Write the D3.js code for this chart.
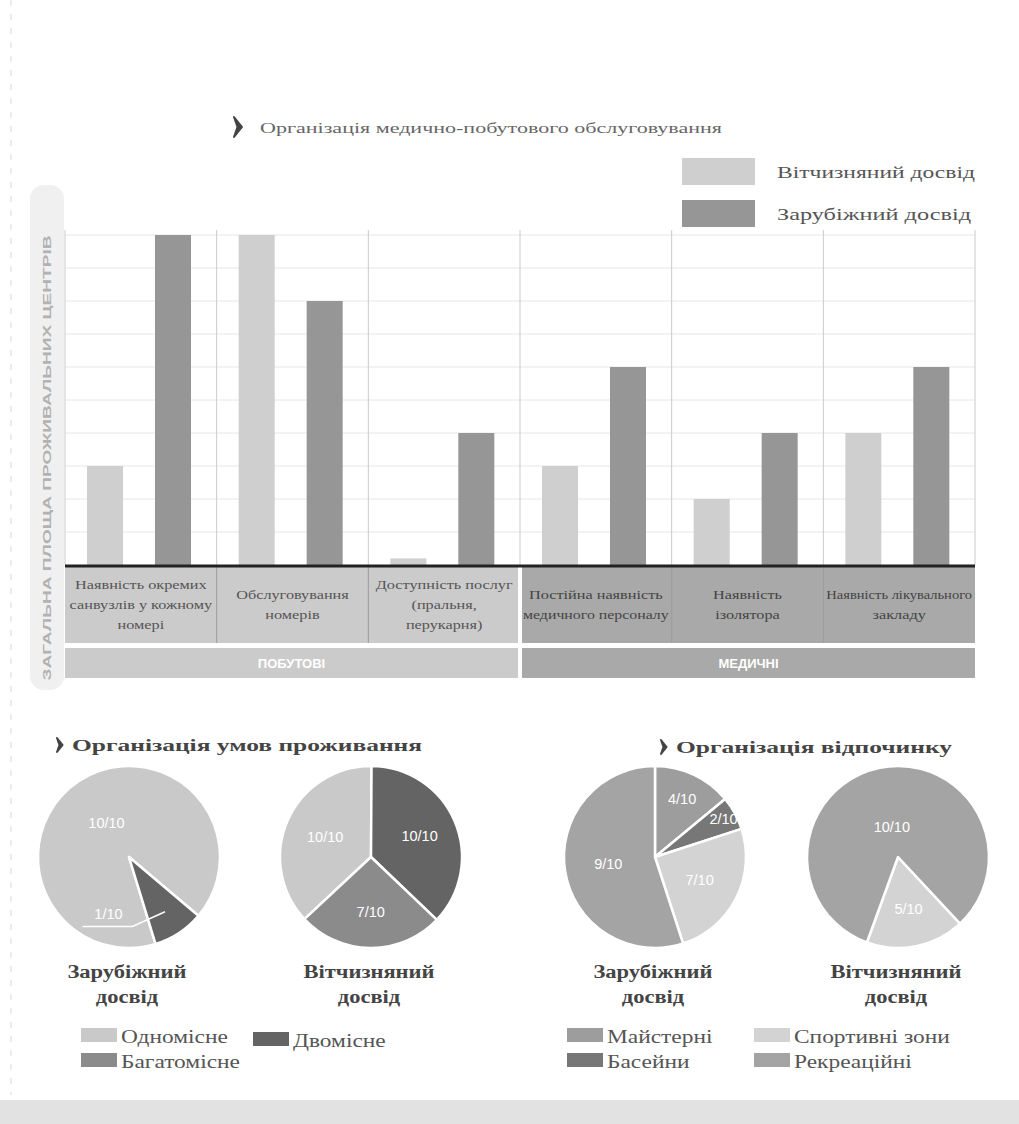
<!DOCTYPE html>
<html>
<head>
<meta charset="utf-8">
<title></title>
<script src="https://d3js.org/d3.v7.min.js"></script>
<style>
body {margin:0; background:#fff;}
svg {display:block;}
.serif {font-family:"Liberation Serif","DejaVu Serif",serif;}
.sans {font-family:"Liberation Sans","DejaVu Sans",sans-serif;}
</style>
</head>
<body>
<script>
var W = 1019, H = 1124;

// --- bar chart data
var categories = [
	["Наявність окремих", "санвузлів у кожному", "номері"],
	["Обслуговування", "номерів"],
	["Доступність послуг", "(пральня,", "перукарня)"],
	["Постійна наявність", "медичного персоналу"],
	["Наявність", "ізолятора"],
	["Наявність лікувального", "закладу"]
];
var catGroup = [0, 0, 0, 1, 1, 1];
var groups = ["ПОБУТОВІ", "МЕДИЧНІ"];
var series = ["Вітчизняний досвід", "Зарубіжний досвід"];
var domestic = [3, 10, 0.2, 3, 2, 4];
var foreign = [10, 8, 4, 6, 4, 6];
var yTicks = d3.range(1, 11);

// --- pie data
var livingKinds = ["Одномісне", "Двомісне", "Багатомісне"];
var livingForeign = [10, 1, 0];
var livingForeignLbl = ["10/10", "1/10", ""];
var livingDomestic = [10, 10, 7];
var livingDomesticLbl = ["10/10", "10/10", "7/10"];

var restKinds = ["Майстерні", "Басейни", "Спортивні зони", "Рекреаційні"];
var restForeign = [14, 6, 25, 55];
var restForeignLbl = ["4/10", "2/10", "7/10", "9/10"];
var restDomestic = [0, 0, 17.5, 82.5];
var restDomesticLbl = ["", "", "5/10", "10/10"];

var livingColors = ["#c9c9c9", "#646464", "#8b8b8b"];
var restColors = ["#9d9d9d", "#777777", "#d3d3d3", "#a4a4a4"];
var barColors = ["#cfcfcf", "#969696"];

var svg = d3.select("body").append("svg")
	.attr("width", W).attr("height", H);

svg.append("rect").attr("width", W).attr("height", H).attr("fill", "#fff");
svg.append("rect").attr("x", 0).attr("y", 1100).attr("width", W).attr("height", 24).attr("fill", "#e2e2e2");
svg.append("line").attr("x1", 11).attr("x2", 11).attr("y1", 0).attr("y2", 1095)
	.attr("stroke", "#d8d8d8").attr("stroke-dasharray", "6,8");

// stretch text horizontally (the scan is wider than the font)
function stretch(sel, k) {
	sel.each(function() {
		var w = this.getComputedTextLength();
		d3.select(this).attr("textLength", w * k).attr("lengthAdjust", "spacingAndGlyphs");
	});
}

function chevron(g, x, y, s) {
	g.append("path")
		.attr("d", "M" + x + "," + (y - s) + " L" + (x + s * 0.8) + "," + y + " L" + x + "," + (y + s) +
			" L" + (x + s * 0.35) + "," + y + " Z")
		.attr("fill", "#444").attr("stroke", "#444").attr("stroke-width", 2).attr("stroke-linejoin", "round");
}

// ---------- title
chevron(svg, 234, 127, 10);
svg.append("text").attr("class", "serif").attr("x", 260).attr("y", 133)
	.attr("font-size", 15).attr("fill", "#666")
	.attr("textLength", 462).attr("lengthAdjust", "spacingAndGlyphs")
	.text("Організація медично-побутового обслуговування");

// ---------- legend
var leg = svg.append("g");
series.forEach(function(s, i) {
	leg.append("rect").attr("x", 682).attr("y", 158 + i * 42).attr("width", 73).attr("height", 27).attr("fill", barColors[i]);
	leg.append("text").attr("class", "serif").attr("x", 777).attr("y", 178 + i * 42)
		.attr("font-size", 17).attr("fill", "#555")
		.attr("textLength", i == 0 ? 198 : 194).attr("lengthAdjust", "spacingAndGlyphs")
		.text(s);
});

// ---------- bar chart
var x0 = d3.scaleBand().domain(d3.range(categories.length)).range([65, 975]);
var x1 = d3.scaleBand().domain([0, 1]).range([22, 126]).paddingInner(0.47);
var y = d3.scaleLinear().domain([0, 10]).range([565, 235]);

// y label background
svg.append("rect").attr("x", 30).attr("y", 185).attr("width", 34).attr("height", 505)
	.attr("rx", 14).attr("fill", "#f0f0f0");
svg.append("text").attr("class", "sans")
	.attr("transform", "translate(51,458) rotate(-90)")
	.attr("text-anchor", "middle").attr("font-size", 11).attr("font-weight", "bold")
	.attr("fill", "#b2b2b2")
	.attr("textLength", 445).attr("lengthAdjust", "spacingAndGlyphs")
	.text("ЗАГАЛЬНА ПЛОЩА ПРОЖИВАЛЬНИХ ЦЕНТРІВ");

var grid = svg.append("g");
grid.selectAll("line").data(yTicks).enter().append("line")
	.attr("x1", 65).attr("x2", 975)
	.attr("y1", function(d) { return y(d); }).attr("y2", function(d) { return y(d); })
	.attr("stroke", "#e6e6e6");

var seps = d3.range(categories.length + 1).map(function(i) { return 65 + i * x0.bandwidth(); });
grid.selectAll(".vsep").data(seps).enter().append("line").attr("class", "vsep")
	.attr("x1", function(d) { return d; }).attr("x2", function(d) { return d; })
	.attr("y1", 230).attr("y2", 565)
	.attr("stroke", "#cacaca");

var cats = svg.append("g").selectAll("g").data(categories).enter().append("g")
	.attr("transform", function(d, i) { return "translate(" + x0(i) + ",0)"; });

cats.selectAll("rect").data(function(d, i) { return [domestic[i], foreign[i]]; })
	.enter().append("rect")
	.attr("x", function(d, j) { return x1(j); })
	.attr("width", x1.bandwidth())
	.attr("y", function(d) { return y(d); })
	.attr("height", function(d) { return y(0) - y(d); })
	.attr("fill", function(d, j) { return barColors[j]; });

// category boxes
var boxFill = ["#cbcbcb", "#a9a9a9"];
var boxText = ["#555", "#444"];
var boxes = svg.append("g");
categories.forEach(function(lines, i) {
	var bx = x0(i), bw = x0.bandwidth();
	boxes.append("rect").attr("x", bx).attr("y", 567).attr("width", bw).attr("height", 76)
		.attr("fill", boxFill[catGroup[i]]);
	var t = boxes.append("text").attr("class", "serif").attr("text-anchor", "middle")
		.attr("font-size", 12.5).attr("fill", boxText[catGroup[i]]);
	var top = 609 - (lines.length - 1) * 10;
	lines.forEach(function(l, k) {
		t.append("tspan").attr("x", bx + bw / 2).attr("y", top + k * 20).text(l);
	});
	t.selectAll("tspan").each(function() {
		var w = this.getComputedTextLength();
		d3.select(this).attr("textLength", Math.min(w * 1.3, bw - 6)).attr("lengthAdjust", "spacingAndGlyphs");
	});
});
boxes.selectAll(".bsep").data(seps.slice(1, -1)).enter().append("line").attr("class", "bsep")
	.attr("x1", function(d) { return d; }).attr("x2", function(d) { return d; })
	.attr("y1", 567).attr("y2", 643)
	.attr("stroke", function(d, i) { return i == 2 ? "#fff" : "#999"; })
	.attr("stroke-width", function(d, i) { return i == 2 ? 4 : 1; });

// baseline
svg.append("line").attr("x1", 65).attr("x2", 975).attr("y1", 566).attr("y2", 566)
	.attr("stroke", "#222").attr("stroke-width", 3);

// group bands
groups.forEach(function(gname, gi) {
	var idx = catGroup.map(function(c, i) { return c == gi ? i : -1; }).filter(function(i) { return i >= 0; });
	var gx0 = x0(idx[0]) + (gi == 1 ? 2 : 0);
	var gx1 = x0(idx[idx.length - 1]) + x0.bandwidth() - (gi == 0 ? 2 : 0);
	svg.append("rect").attr("x", gx0).attr("y", 648).attr("width", gx1 - gx0).attr("height", 30)
		.attr("fill", boxFill[gi]);
	svg.append("text").attr("class", "sans").attr("x", (gx0 + gx1) / 2).attr("y", 668)
		.attr("text-anchor", "middle").attr("font-size", 13).attr("font-weight", "bold")
		.attr("fill", "#fff").text(gname);
});

// ---------- pie section titles
chevron(svg, 57, 745, 7);
svg.append("text").attr("class", "serif").attr("x", 72).attr("y", 751)
	.attr("font-size", 17).attr("font-weight", "bold").attr("fill", "#444")
	.attr("textLength", 350).attr("lengthAdjust", "spacingAndGlyphs")
	.text("Організація умов проживання");
chevron(svg, 661, 747, 7);
svg.append("text").attr("class", "serif").attr("x", 676).attr("y", 753)
	.attr("font-size", 17).attr("font-weight", "bold").attr("fill", "#444")
	.attr("textLength", 276).attr("lengthAdjust", "spacingAndGlyphs")
	.text("Організація відпочинку");

// ---------- pies
var R = 91;
var pies = [
	{cx: 129, cy: 857, vals: livingForeign, lbl: livingForeignLbl, colors: livingColors, start: 163,
		lr: [0.45, 0.66, 0.5], la: [null, 200, null], caption: ["Зарубіжний", "досвід"]},
	{cx: 371, cy: 857, vals: livingDomestic, lbl: livingDomesticLbl, colors: livingColors, start: -133,
		lr: [0.55, 0.58, 0.6], la: [null, null, null], caption: ["Вітчизняний", "досвід"]},
	{cx: 655, cy: 857, vals: restForeign, lbl: restForeignLbl, colors: restColors, start: 0,
		lr: [0.7, 0.86, 0.55, 0.52], la: [null, null, null, null], caption: ["Зарубіжний", "досвід"]},
	{cx: 898, cy: 857, vals: restDomestic, lbl: restDomesticLbl, colors: restColors, start: 137,
		lr: [0.5, 0.5, 0.58, 0.34], la: [null, null, null, null], caption: ["Вітчизняний", "досвід"]}
];

var arc = d3.arc().innerRadius(0).outerRadius(R);

pies.forEach(function(p, pi) {
	var a0 = p.start * Math.PI / 180;
	var pie = d3.pie().sort(null).startAngle(a0).endAngle(a0 + 2 * Math.PI);
	var arcs = pie(p.vals);
	var g = svg.append("g").attr("transform", "translate(" + p.cx + "," + p.cy + ")");
	g.selectAll("path").data(arcs).enter().append("path")
		.filter(function(d) { return d.value > 0; })
		.attr("d", arc)
		.attr("fill", function(d, i) { return p.colors[d.index]; })
		.attr("stroke", "#fff").attr("stroke-width", 2.5).attr("stroke-linejoin", "round");

	arcs.forEach(function(d, i) {
		if (!p.lbl[i]) return;
		var ang = p.la[i] != null ? p.la[i] * Math.PI / 180 : (d.startAngle + d.endAngle) / 2;
		var r = R * p.lr[i];
		var lx = Math.sin(ang) * r, ly = -Math.cos(ang) * r;
		g.append("text").attr("class", "sans").attr("x", lx).attr("y", ly)
			.attr("dy", "0.35em").attr("text-anchor", "middle")
			.attr("font-size", 14.5).attr("fill", "#fff")
			.text(p.lbl[i]);
		if (p.la[i] != null) {
			// leader line from label to its slice
			var mid = (d.startAngle + d.endAngle) / 2;
			var ex = Math.sin(mid) * R * 0.72, ey = -Math.cos(mid) * R * 0.72;
			g.append("polyline")
				.attr("points", [[lx - 26, ly + 13], [lx + 24, ly + 13], [ex, ey]].join(" "))
				.attr("fill", "none").attr("stroke", "#fff").attr("stroke-width", 1.5);
		}
	});

	var cap = svg.append("text").attr("class", "serif").attr("text-anchor", "middle")
		.attr("font-size", 18).attr("font-weight", "bold").attr("fill", "#444");
	p.caption.forEach(function(c, k) {
		cap.append("tspan").attr("x", p.cx - 2).attr("y", 978 + k * 25).text(c);
	});
	cap.selectAll("tspan").call(stretch, 1.25);
});

// ---------- pie legends
function pieLegend(items, colors, pos) {
	items.forEach(function(name, i) {
		var p = pos[i];
		svg.append("rect").attr("x", p[0]).attr("y", p[1] - 12).attr("width", 36).attr("height", 14)
			.attr("fill", colors[i]);
		svg.append("text").attr("class", "serif").attr("x", p[0] + 40).attr("y", p[1] + 3)
			.attr("font-size", 18).attr("fill", "#555").text(name)
			.call(stretch, 1.3);
	});
}
pieLegend(livingKinds, livingColors, [[81, 1040], [253, 1044], [81, 1065]]);
pieLegend(restKinds, restColors, [[567, 1040], [567, 1065], [754, 1040], [754, 1065]]);
</script>
</body>
</html>
